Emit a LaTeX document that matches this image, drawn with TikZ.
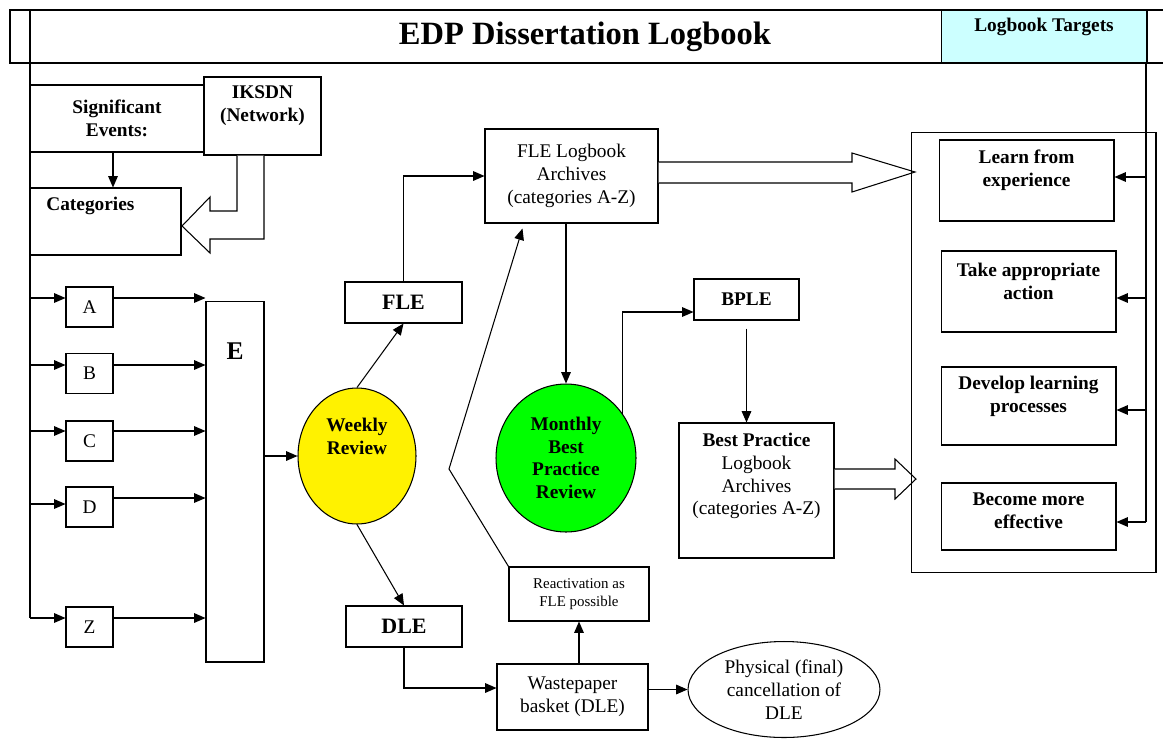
\documentclass[tikz,border=0pt]{standalone}
\usepackage{fontspec}
\setmainfont{Liberation Serif}
\usepackage{tikz}
\usetikzlibrary{arrows.meta,shapes.geometric}
\definecolor{tgtcyan}{HTML}{CCFFFF}
\begin{document}
\begin{tikzpicture}[x=0.02cm,y=-0.02cm,line width=0.6pt,font=\fontsize{11}{13}\selectfont,
 box/.style={draw,inner sep=0pt,align=center},
 bf/.style={font=\fontsize{11}{13}\selectfont\bfseries,align=center},
 arr/.style={-{Triangle[length=6.5pt,width=5.5pt]}},
 hollow/.style={draw,fill=white}]
\useasboundingbox (0,0) rectangle (1163,745);
\draw (1163,10) -- (10,10) -- (10,63) -- (1163,63);
\node[font=\fontsize{18.5}{22}\selectfont\bfseries] (title) at (585,37) {EDP Dissertation Logbook};
\node[box,fill=tgtcyan,minimum width=4.12cm,minimum height=1.06cm] (ltgt) at (1044,36.5) {};
\node[bf] at (1044,27) {Logbook Targets};
\draw (30,10) -- (30,618);
\node[box,bf,minimum width=3.48cm,minimum height=1.34cm] (sig) at (117,118.5) {Significant\\Events:};
\node[box,minimum width=2.34cm,minimum height=1.56cm] (iksdn) at (262.5,116) {};
\node[bf] at (262.5,106) {IKSDN\\(Network)};
\node[box,minimum width=3.02cm,minimum height=1.34cm] (cat) at (105.5,221.5) {};
\node[bf,anchor=west] at (40,206) {Categories};
\draw[arr] (sig.south -| 113,0) -- (cat.north -| 113,0);
\draw[hollow] (iksdn.south -| 237,0) -- (237,211) -- (210,211) -- (210,197) -- (182,226) -- (210,253) -- (210,239) -- (264,239) -- (iksdn.south -| 264,0);
\node[box,minimum width=1.16cm,minimum height=7.22cm] (E) at (235,481.5) {};
\node[font=\fontsize{14.5}{16}\selectfont\bfseries] at (235,351) {E};
\foreach \lt/\yb/\yl/\yr in {A/307/298/298,B/373.5/365/365,C/441/431/431,D/507/504/498,Z/627/618/618}{
 \node[box,minimum width=0.94cm,minimum height=0.8cm] (\lt) at (89.5,\yb) {\lt};
 \draw[arr] (30,\yl) -- (\lt.west |- 0,\yl);
 \draw[arr] (\lt.east |- 0,\yr) -- (E.west |- 0,\yr);
}
\node[ellipse,draw,fill=yellow,minimum width=2.36cm,minimum height=2.72cm,inner sep=0pt] (weekly) at (357,456) {};
\node[bf] at (357,436) {Weekly\\Review};
\draw[arr] (E.east |- weekly.west) -- (weekly.west);
\node[box,font=\fontsize{12.5}{14}\selectfont\bfseries,minimum width=2.34cm,minimum height=0.82cm] (fle) at (403.5,302.5) {FLE};
\draw[arr] (weekly.north) -- (fle.south);
\node[box,minimum width=3.46cm,minimum height=1.88cm] (arch) at (571.5,176) {FLE Logbook\\Archives\\(categories A-Z)};
\draw[arr] (fle.north) |- (arch.west);
\node[ellipse,draw,fill=green,bf,font=\fontsize{11}{12.8}\selectfont\bfseries,minimum width=2.8cm,minimum height=2.96cm,inner sep=0pt] (monthly) at (566,458) {Monthly\\Best\\Practice\\Review};
\draw[arr] (monthly.north |- arch.south) -- (monthly.north);
\node[box,bf,minimum width=2.1cm,minimum height=0.82cm] (bple) at (746.5,299.5) {BPLE};
\draw[arr] (monthly.38) |- ([yshift=-0.25cm]bple.west);
\node[box,minimum width=3.1cm,minimum height=2.7cm] (bestp) at (756.5,490.5) {};
\node[align=center] at (756.5,476) {\textbf{Best Practice}\\Logbook\\Archives\\(categories A-Z)};
\draw[arr,shorten <=0.16cm] (bple.south) -- (bple.south |- bestp.north);
\draw[hollow] (arch.east |- 0,162) -- (852,162) -- (852,153) -- (915,172) -- (852,192) -- (852,183) -- (arch.east |- 0,183);
\draw[hollow] (bestp.east |- 0,469) -- (895,469) -- (895,459) -- (916,479) -- (895,499) -- (895,489) -- (bestp.east |- 0,489);
\node[box,minimum width=4.9cm,minimum height=8.82cm] (targets) at (1033.5,352.5) {};
\draw (ltgt.south -| 1146,0) -- (1146,522);
\foreach \nm/\xc/\yc/\h/\ty/\ya/\txt in {learn/1026.5/180.5/1.62/170/177/{Learn from\\experience},take/1028.5/291.5/1.62/281/298/{Take appropriate\\action},develop/1028.5/406/1.56/396/410/{Develop learning\\processes},become/1028.5/516.5/1.34/511/522/{Become more\\effective}}{
 \node[box,minimum width=3.5cm,minimum height=\h cm] (\nm) at (\xc,\yc) {};
 \node[bf] at (\xc,\ty) {\txt};
 \draw[arr] (1146,\ya) -- (\nm.east |- 0,\ya);
}
\node[box,font=\fontsize{12.5}{14}\selectfont\bfseries,minimum width=2.32cm,minimum height=0.82cm] (dle) at (404,626.5) {DLE};
\draw[arr] (weekly.south) -- (dle.north);
\node[box,minimum width=3.02cm,minimum height=1.32cm] (waste) at (572.5,697) {Wastepaper\\basket (DLE)};
\draw[arr] (dle.south) |- ([yshift=0.18cm]waste.west);
\node[box,font=\fontsize{8.5}{10.3}\selectfont,minimum width=2.8cm,minimum height=1.08cm] (react) at (579,594) {Reactivation as\\FLE possible};
\draw[arr] (react.south |- waste.north) -- (react.south);
\coordinate (kink) at (449,469);
\draw[arr] (react.north west) -- (kink) -- ([xshift=0.76cm,yshift=-0.1cm]arch.south west);
\node[ellipse,draw,minimum width=3.84cm,minimum height=1.92cm,inner sep=0pt,align=center] (phys) at (784,689.5) {Physical (final)\\cancellation of\\DLE};
\draw[arr] (waste.east |- phys.west) -- (phys.west);
\end{tikzpicture}
\end{document}
